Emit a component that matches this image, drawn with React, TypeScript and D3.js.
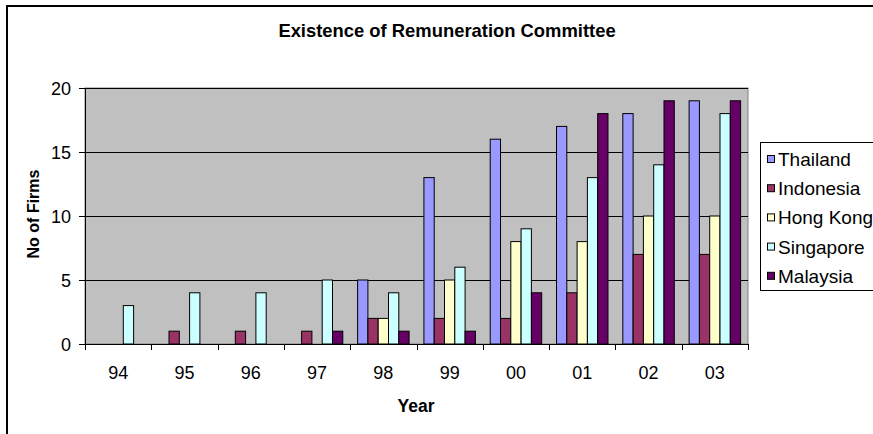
import React from "react";
import * as d3 from "d3";

const years = ["94", "95", "96", "97", "98", "99", "00", "01", "02", "03"];
const countries = ["Thailand", "Indonesia", "Hong Kong", "Singapore", "Malaysia"];
const colors = ["#9999FF", "#993366", "#FFFFCC", "#CCFFFF", "#660066"];

const thailand = [0, 0, 0, 0, 5, 13, 16, 17, 18, 19];
const indonesia = [0, 1, 1, 1, 2, 2, 2, 4, 7, 7];
const hongKong = [0, 0, 0, 0, 2, 5, 8, 8, 10, 10];
const singapore = [3, 4, 4, 5, 4, 6, 9, 13, 14, 18];
const malaysia = [0, 0, 0, 1, 1, 1, 4, 18, 19, 19];

const seriesValues = [thailand, indonesia, hongKong, singapore, malaysia];
const yTicks = [0, 5, 10, 15, 20];

const W = 873;
const H = 434;
const plot = { left: 85, right: 748, top: 88, bottom: 344 };
const FONT = "'Liberation Sans', Arial, sans-serif";

export default function App() {
  const x = d3.scaleBand<string>().domain(years).range([plot.left, plot.right]).padding(0);
  const xInner = d3
    .scaleBand<string>()
    .domain(countries)
    .range([0, x.bandwidth()])
    .paddingInner(0)
    .paddingOuter(0.72);
  const y = d3.scaleLinear().domain([0, 20]).range([plot.bottom, plot.top]);

  const boundaries = [...years.map((yr) => x(yr) as number), plot.right];

  return (
    <svg
      width={W}
      height={H}
      style={{ position: "absolute", left: 0, top: 0, background: "#fff" }}
      fontFamily={FONT}
    >
      {/* chart frame */}
      <rect x={7} y={6} width={W + 20} height={H + 20} fill="#fff" stroke="#000" strokeWidth={2} />

      {/* title */}
      <text x={447} y={37} textAnchor="middle" fontSize={18.4} fontWeight="bold" fill="#000">
        Existence of Remuneration Committee
      </text>

      {/* plot area */}
      <rect
        x={plot.left}
        y={plot.top}
        width={plot.right - plot.left}
        height={plot.bottom - plot.top}
        fill="#C0C0C0"
        stroke="#808080"
        strokeWidth={1}
      />
      {yTicks.slice(1).map((t) => (
        <line
          key={`g${t}`}
          x1={plot.left}
          x2={plot.right}
          y1={Math.round(y(t)) + 0.5}
          y2={Math.round(y(t)) + 0.5}
          stroke="#000"
          strokeWidth={1}
        />
      ))}

      {/* bars */}
      {seriesValues.map((vals, si) =>
        vals.map((v, i) =>
          v > 0 ? (
            <rect
              key={`b${si}-${i}`}
              x={(x(years[i]) as number) + (xInner(countries[si]) as number)}
              y={y(v)}
              width={xInner.bandwidth()}
              height={plot.bottom - y(v)}
              fill={colors[si]}
              stroke="#000"
              strokeWidth={1}
            />
          ) : null
        )
      )}

      {/* y axis */}
      <line x1={plot.left + 0.5} x2={plot.left + 0.5} y1={plot.top} y2={plot.bottom} stroke="#000" />
      {yTicks.map((t) => (
        <g key={`yt${t}`}>
          <line x1={plot.left - 6} x2={plot.left} y1={Math.round(y(t)) + 0.5} y2={Math.round(y(t)) + 0.5} stroke="#000" />
          <text x={71} y={y(t) + 7} textAnchor="end" fontSize={18} fill="#000">
            {t}
          </text>
        </g>
      ))}

      {/* x axis */}
      <line x1={plot.left} x2={plot.right} y1={plot.bottom + 0.5} y2={plot.bottom + 0.5} stroke="#000" />
      {boundaries.map((bx, i) => (
        <line
          key={`xt${i}`}
          x1={Math.round(bx) + 0.5}
          x2={Math.round(bx) + 0.5}
          y1={plot.bottom}
          y2={plot.bottom + 6}
          stroke="#000"
        />
      ))}
      {years.map((yr) => (
        <text
          key={`xl${yr}`}
          x={(x(yr) as number) + x.bandwidth() / 2}
          y={379}
          textAnchor="middle"
          fontSize={18}
          fill="#000"
        >
          {yr}
        </text>
      ))}

      {/* axis titles */}
      <text x={416} y={412} textAnchor="middle" fontSize={17.5} fontWeight="bold" fill="#000">
        Year
      </text>
      <text
        transform={`translate(39, 214) rotate(-90)`}
        textAnchor="middle"
        fontSize={16}
        fontWeight="bold"
        fill="#000"
      >
        No of Firms
      </text>

      {/* legend */}
      <rect x={760.5} y={142.5} width={140} height={148} fill="#fff" stroke="#000" strokeWidth={1} />
      {countries.map((c, i) => {
        const cy = 159.5 + i * 29.2;
        return (
          <g key={`lg${c}`}>
            <rect x={767.5} y={cy - 4} width={7} height={7} fill={colors[i]} stroke="#000" strokeWidth={1} />
            <text x={778} y={cy + 6.5} fontSize={19} fill="#000">
              {c}
            </text>
          </g>
        );
      })}
    </svg>
  );
}
